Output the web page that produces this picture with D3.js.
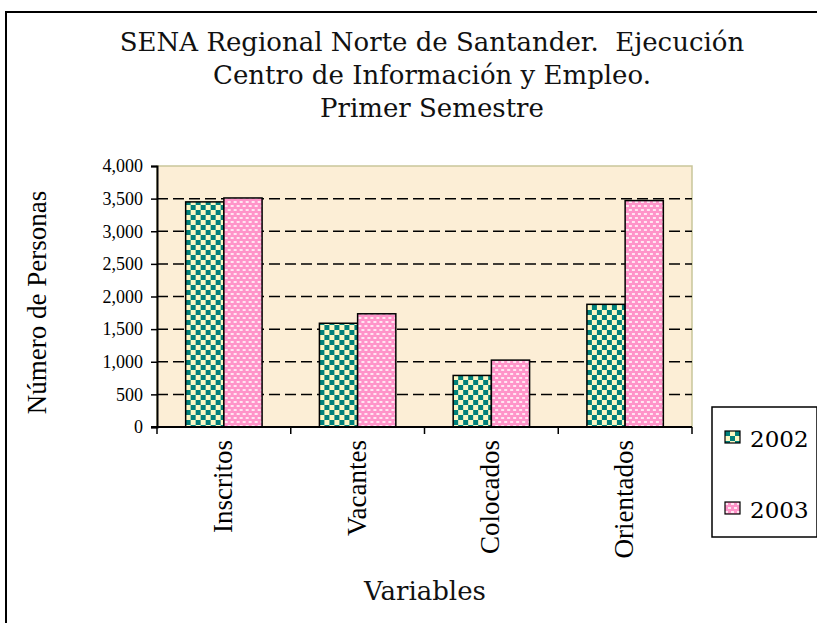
<!DOCTYPE html>
<html>
<head>
<meta charset="utf-8">
<script src="https://cdn.jsdelivr.net/npm/d3@7"></script>
<style>
  body { margin: 0; background: #fff; }
  svg { display: block; }
  text { white-space: pre; }
</style>
</head>
<body>
<div id="chart"></div>
<script>
const categories = ['Inscritos', 'Vacantes', 'Colocados', 'Orientados'];
const years = ['2002', '2003'];
const values2002 = [3450, 1590, 790, 1880];
const values2003 = [3510, 1735, 1025, 3470];
const yTicks = [0, 500, 1000, 1500, 2000, 2500, 3000, 3500, 4000];
const titleLines = ['SENA Regional Norte de Santander.  Ejecución', 'Centro de Información y Empleo.', 'Primer Semestre'];

const width = 817, height = 623;
const plot = { left: 157, right: 692, top: 166, bottom: 427 };

const svg = d3.select('#chart').append('svg')
  .attr('width', width)
  .attr('height', height);

// patterns
const defs = svg.append('defs');
const checker = defs.append('pattern')
  .attr('id', 'p2002')
  .attr('patternUnits', 'userSpaceOnUse')
  .attr('width', 10).attr('height', 10);
checker.append('rect').attr('width', 10).attr('height', 10).attr('fill', '#FBF7C4');
checker.append('rect').attr('width', 5).attr('height', 5).attr('fill', '#00807A');
checker.append('rect').attr('x', 5).attr('y', 5).attr('width', 5).attr('height', 5).attr('fill', '#00807A');

const dots = defs.append('pattern')
  .attr('id', 'p2003')
  .attr('patternUnits', 'userSpaceOnUse')
  .attr('width', 6).attr('height', 8);
dots.append('rect').attr('width', 6).attr('height', 8).attr('fill', '#FF94C9');
dots.append('rect').attr('x', 0).attr('y', 1).attr('width', 3).attr('height', 2).attr('fill', '#FFE6F2');
dots.append('rect').attr('x', 3).attr('y', 5).attr('width', 3).attr('height', 2).attr('fill', '#FFE6F2');

// outer frame
svg.append('rect')
  .attr('x', 6).attr('y', 12)
  .attr('width', 830).attr('height', 640)
  .attr('fill', 'none')
  .attr('stroke', '#000')
  .attr('stroke-width', 2);

// title
svg.append('g').selectAll('text')
  .data(titleLines)
  .enter()
  .append('text')
  .attr('x', 432)
  .attr('y', (d, i) => 51 + i * 33)
  .attr('text-anchor', 'middle')
  .attr('font-family', 'DejaVu Serif')
  .attr('font-size', 26)
  .attr('fill', '#111')
  .text(d => d);

const x0 = d3.scaleBand().domain(categories).range([plot.left, plot.right]).paddingInner(0).paddingOuter(0);
const bw = x0.bandwidth() / 3.5;
const x1 = d3.scaleBand().domain(years).range([0, 2 * bw]);
const y = d3.scaleLinear().domain([0, 4000]).range([plot.bottom, plot.top]);

// plot background
svg.append('rect')
  .attr('x', plot.left).attr('y', plot.top)
  .attr('width', plot.right - plot.left).attr('height', plot.bottom - plot.top)
  .attr('fill', '#FCEED6')
  .attr('stroke', '#C9C69A')
  .attr('stroke-width', 1.5);

// gridlines
svg.append('g')
  .selectAll('line')
  .data(yTicks.filter(d => d > 0 && d < 4000))
  .enter()
  .append('line')
  .attr('x1', plot.left).attr('x2', plot.right)
  .attr('y1', d => y(d)).attr('y2', d => y(d))
  .attr('stroke', '#000')
  .attr('stroke-width', 1.5)
  .attr('stroke-dasharray', '11,5');

// bars
const series = [values2002, values2003];
const groups = svg.append('g').selectAll('g')
  .data(categories)
  .enter()
  .append('g')
  .attr('transform', d => 'translate(' + (x0(d) + (x0.bandwidth() - 2 * bw) / 2) + ',0)');

groups.selectAll('rect')
  .data((d, i) => years.map((yr, j) => ({ year: yr, value: series[j][i] })))
  .enter()
  .append('rect')
  .attr('x', d => x1(d.year))
  .attr('y', d => y(d.value))
  .attr('width', x1.bandwidth())
  .attr('height', d => plot.bottom - y(d.value))
  .attr('fill', d => 'url(#p' + d.year + ')')
  .attr('stroke', '#000')
  .attr('stroke-width', 1.5);

// y axis
const yAxis = svg.append('g')
  .attr('transform', 'translate(' + plot.left + ',0)')
  .call(d3.axisLeft(y).tickValues(yTicks).tickSize(6).tickPadding(8).tickFormat(d3.format(',')));
yAxis.select('.domain').attr('stroke-width', 2);
yAxis.selectAll('.tick line').attr('stroke-width', 1.5);
yAxis.selectAll('text')
  .attr('font-family', 'Liberation Serif')
  .attr('font-size', 18)
  .attr('fill', '#000');

// x axis
const xAxis = svg.append('g')
  .attr('transform', 'translate(0,' + plot.bottom + ')');
xAxis.append('line')
  .attr('x1', plot.left - 6).attr('x2', plot.right)
  .attr('stroke', '#000').attr('stroke-width', 2);
xAxis.selectAll('.xtick')
  .data(x0.domain().map(d => x0(d)).concat([plot.right]))
  .enter()
  .append('line')
  .attr('x1', d => d).attr('x2', d => d)
  .attr('y1', 0).attr('y2', 7)
  .attr('stroke', '#000').attr('stroke-width', 1.5);
xAxis.selectAll('.xlabel')
  .data(categories)
  .enter()
  .append('text')
  .attr('transform', d => 'translate(' + (x0(d) + x0.bandwidth() / 2 + 8) + ',13) rotate(-90)')
  .attr('text-anchor', 'end')
  .attr('font-family', 'Liberation Serif')
  .attr('font-size', 27)
  .text(d => d);

// axis titles
svg.append('text')
  .attr('transform', 'translate(46,' + ((plot.top + plot.bottom) / 2 + 6) + ') rotate(-90)')
  .attr('text-anchor', 'middle')
  .attr('font-family', 'Liberation Serif')
  .attr('font-size', 27)
  .text('Número de Personas');

svg.append('text')
  .attr('x', 425)
  .attr('y', 600)
  .attr('text-anchor', 'middle')
  .attr('font-family', 'DejaVu Serif')
  .attr('font-size', 26)
  .attr('fill', '#111')
  .text('Variables');

// legend
const legend = svg.append('g').attr('transform', 'translate(712,407)');
legend.append('rect')
  .attr('width', 105).attr('height', 130)
  .attr('fill', '#fff')
  .attr('stroke', '#000')
  .attr('stroke-width', 1.5);
const items = legend.selectAll('.item')
  .data(years)
  .enter()
  .append('g')
  .attr('transform', (d, i) => 'translate(13,' + (24 + i * 71) + ')');
items.append('rect')
  .attr('width', 15).attr('height', 12)
  .attr('fill', d => 'url(#p' + d + ')')
  .attr('stroke', '#000')
  .attr('stroke-width', 1.2);
items.append('text')
  .attr('x', 25)
  .attr('y', 16)
  .attr('font-family', 'DejaVu Serif')
  .attr('font-size', 23)
  .text(d => d);
</script>
</body>
</html>
